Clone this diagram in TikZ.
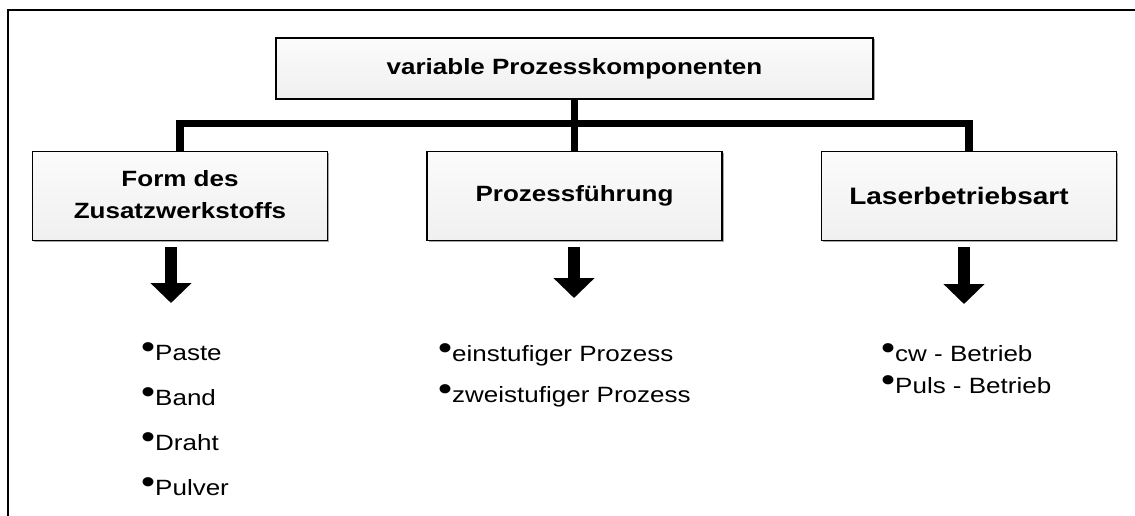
\documentclass[tikz,border=0pt]{standalone}
\usepackage{fontspec}
\setmainfont{Liberation Sans}
\usepackage{graphicx}
\usetikzlibrary{positioning}
\usetikzlibrary{arrows.meta}
\usetikzlibrary{shadows}

\newcommand{\squeezed}[1]{\scalebox{1}[0.85]{#1}}
\newcommand{\itembullet}{\raisebox{2pt}{\fontsize{40}{40}\selectfont •}}

\begin{document}
\begin{tikzpicture}[x=1pt, y=-1pt,
                headbox/.style={rectangle, draw, line width=1.5pt, top color=gray!3, bottom color=gray!12, drop shadow={shadow xshift=1.5pt, shadow yshift=-1.5pt, fill=gray!70, opacity=1}, minimum width=295pt, minimum height=89pt, inner sep=0pt, align=center, font=\fontsize{26}{37}\selectfont\bfseries},
                topbox/.style={headbox, minimum width=597pt, minimum height=61pt},
                listitem/.style={anchor=base west, inner sep=0pt, font=\fontsize{26}{30}\selectfont},
                trunk/.style={line width=7.5pt},
                blockarrow/.style={line width=12pt, -{Triangle[width=40pt, length=20pt]}, shorten <=6pt},
                frame/.style={line width=2pt},
            ]
            \useasboundingbox (0,0) rectangle (1135,516);

            % Frame
            \draw[frame] (1135,10) -| (8,516);

            % Nodes
            \node[topbox]   (top)                           at (574.5,68.5)  {\squeezed{variable Prozesskomponenten}};
            \node[headbox]  (mid)     [below=51pt of top]   {\squeezed{Prozessführung}};
            \node[headbox]  (form)    [left=98pt of mid]    {\squeezed{\begin{tabular}{@{}c@{}}Form des\\Zusatzwerkstoffs\end{tabular}}};
            \node[headbox]  (laser)   [right=98pt of mid]   {\fontsize{28}{37}\selectfont\squeezed{Laserbetriebsart}\hspace*{20pt}};
            \coordinate[below=24pt of top] (fork);

            \node[listitem] (paste)     at (141,360)   {\squeezed{\itembullet Paste}};
            \node[listitem] (band)      at (141,405)   {\squeezed{\itembullet Band}};
            \node[listitem] (draht)     at (141,450)   {\squeezed{\itembullet Draht}};
            \node[listitem] (pulver)    at (141,495)   {\squeezed{\itembullet Pulver}};

            \node[listitem] (einstufig)     at (438,361)   {\squeezed{\itembullet einstufiger Prozess}};
            \node[listitem] (zweistufig)    at (438,402)   {\squeezed{\itembullet zweistufiger Prozess}};

            \node[listitem] (cw)        at (881,361)   {\squeezed{\itembullet cw - Betrieb}};
            \node[listitem] (puls)      at (881,393)   {\squeezed{\itembullet Puls - Betrieb}};

            \coordinate (form_tip)  at (171,303);
            \coordinate (mid_tip)   at (574,298);
            \coordinate (laser_tip) at (964,304);

            %Lines
            \draw[trunk] (top) -- (mid);
            \draw[trunk] (form) |- (fork) -| (laser);

            \draw[blockarrow] (form.south -| form_tip) -- (form_tip);
            \draw[blockarrow] (mid.south -| mid_tip) -- (mid_tip);
            \draw[blockarrow] (laser.south -| laser_tip) -- (laser_tip);
        \end{tikzpicture}
\end{document}
